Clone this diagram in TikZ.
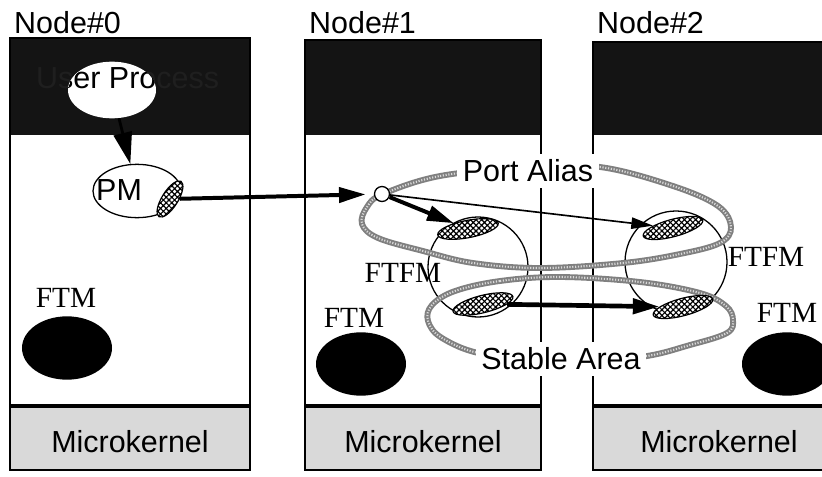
\documentclass[tikz,border=0pt]{standalone}
\usepackage{fontspec}
\setmainfont{Liberation Serif}
\setsansfont{Liberation Sans}
\usepackage{tikz}
\usetikzlibrary{positioning,arrows.meta,shapes.geometric,patterns.meta}
\definecolor{banda}{gray}{0.08}
\definecolor{kernel}{gray}{0.85}
\definecolor{anello}{gray}{0.5}

\begin{document}
\begin{tikzpicture}[x=0.03cm, y=-0.03cm,
    etichetta/.style={font=\fontsize{26}{30}\selectfont\sffamily, inner sep=0pt},
    modulo/.style={font=\fontsize{25}{30}\selectfont\rmfamily, inner sep=0pt},
    porta/.style={ellipse, draw, line width=1pt, minimum width=1.85cm, minimum height=0.52cm,
        preaction={fill=white}, pattern={Hatch[angle=45, distance=3.4pt, line width=1pt]}},
    ftm/.style={ellipse, fill=black, minimum width=2.7cm, minimum height=1.9cm},
    sfera/.style={circle, draw, line width=1.1pt, minimum size=3cm},
    anello/.style={draw=anello, line width=5pt,
        postaction={draw=black!15, line width=1.8pt, dash pattern=on 1pt off 1.4pt}},
    freccia/.style={line width=3.4pt, -{Triangle[length=0.8cm, width=0.45cm]}},
    sottile/.style={line width=1.4pt, -{Triangle[length=0.65cm, width=0.34cm]}}
]
    \clip (0,0) rectangle (822,476);
    \fill[white] (0,0) rectangle (822,476);

    % Pannelli dei nodi
    \foreach \xl/\xr/\yt/\num in {10/250/38/0, 305/541/40/1, 593/845/42/2} {
        \fill[banda] (\xl,\yt) rectangle (\xr,135);
        \fill[kernel] (\xl,406) rectangle (\xr,470);
        \draw[line width=1.2pt] (\xl,\yt) rectangle (\xr,470);
        \draw[line width=2.6pt] (\xl,406) -- (\xr,406);
        \node[etichetta] (kernel\num) at ({(\xl+\xr)/2},442) {Microkernel};
        \node[etichetta, anchor=base west] (titolo\num) at (\xl+4,33) {Node\#\num};
    }

    % Processo utente e PM
    \node[etichetta, anchor=base west, text=black!88] (utentetesto) at (36,88) {User Process};
    \node[ellipse, fill=white, minimum width=2.64cm, minimum height=1.7cm] (utente) at (112,90) {};
    \begin{scope}
        \clip (112,90) ellipse [x radius=44, y radius=28.5];
        \node[etichetta, anchor=base west] at (36,88) {User Process};
    \end{scope}
    \node[ellipse, draw, fill=white, line width=1.1pt, minimum width=2.64cm, minimum height=1.6cm] (pm) at (137,191) {};
    \node[etichetta, anchor=west] (pmtesto) at (96,190) {PM};
    \node[porta, minimum width=1.25cm, minimum height=0.48cm, rotate=58] (pmporta) at (170,199) {};
    \draw[line width=2.4pt, -{Triangle[length=0.95cm, width=0.55cm]}] (utente) -- (pm);

    % FTM
    \node[ftm] (ftm0) at (67,348) {};
    \node[ftm] (ftm1) at (361,364) {};
    \node[ftm] (ftm2) at (787,364) {};
    \node[modulo] (ftmtesto0) at (66,298) {FTM};
    \node[modulo] (ftmtesto1) at (354,318) {FTM};
    \node[modulo] (ftmtesto2) at (787,313) {FTM};

    % FTFM
    \node[sfera] (ftfmA) at (478,267) {};
    \node[sfera, minimum size=3.06cm] (ftfmB) at (676,262) {};

    % Anelli Port Alias e Stable Area
    \draw[anello] plot[smooth cycle, tension=0.6] coordinates {
        (383,194) (440,176) (528,167) (600,167) (673,186) (718,206) (731,227)
        (720,243) (680,254) (623,263) (540,268) (473,263) (423,251) (378,238)
        (362,224) (367,207)};
    \draw[anello] plot[smooth cycle, tension=0.6] coordinates {
        (455,291) (500,281) (560,277) (640,282) (700,293) (726,306) (733,320)
        (727,333) (690,345) (640,357) (561,361) (483,354) (442,338) (428,321)
        (432,305)};

    % Porte dei FTFM
    \node[porta, rotate=11] (ftfmAsu) at (468,229) {};
    \node[porta, rotate=14] (ftfmAgiu) at (483,304) {};
    \node[porta, rotate=15] (ftfmBsu) at (673,228) {};
    \node[porta, rotate=15] (ftfmBgiu) at (683,307) {};

    % Alias e frecce
    \node[circle, draw, fill=white, line width=1.1pt, minimum size=0.45cm, inner sep=0pt] (alias) at (382,194) {};
    \draw[freccia, shorten >=7pt] (pmporta) -- (alias);
    \draw[freccia] (alias) -- (ftfmAsu);
    \draw[sottile] (alias) -- (ftfmBsu);
    \draw[freccia, line width=4pt] (ftfmAgiu) -- (ftfmBgiu);

    % Etichette
    \node[etichetta, fill=white, inner sep=5pt] (portalias) at (528,171) {Port Alias};
    \node[etichetta, fill=white, inner sep=5pt] (stabile) at (561,359) {Stable Area};
    \node[modulo] (ftfmtestoA) at (403,273) {FTFM};
    \node[modulo] (ftfmtestoB) at (766,257) {FTFM};
\end{tikzpicture}
\end{document}
